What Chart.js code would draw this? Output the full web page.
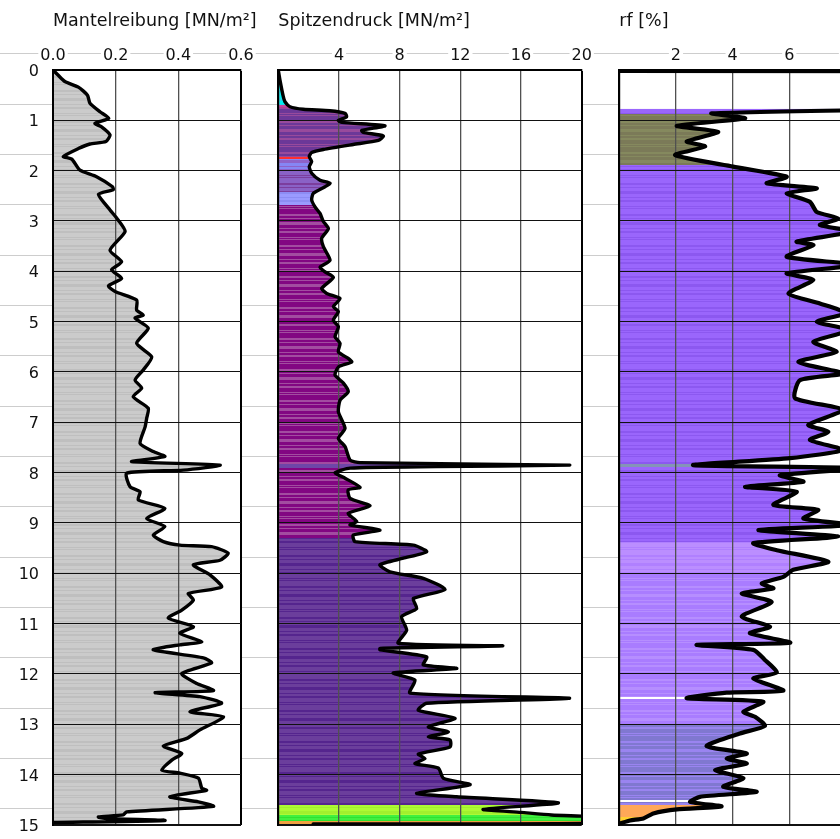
<!DOCTYPE html>
<html>
<head>
<meta charset="utf-8">
<title>Drucksondierung</title>
<script src="https://cdn.jsdelivr.net/npm/chart.js@4.4.1/dist/chart.umd.min.js"></script>
<style>
  html, body { margin: 0; padding: 0; background: #fff; overflow: hidden; }
  #sheet { position: relative; width: 840px; height: 839px; overflow: hidden; background: #fff; }
  #sheet canvas { position: absolute; top: 0; }
</style>
</head>
<body>
<div id="sheet">
  <canvas id="fsChart" width="260" height="839" style="left:0px"></canvas>
  <canvas id="qcChart" width="340" height="839" style="left:260px"></canvas>
  <canvas id="rfChart" width="360" height="839" style="left:600px"></canvas>
</div>
<script>
// ---- Mantelreibung fs [MN/m²] over depth [m] ----
const fsDepth = [0.00, 0.10, 0.23, 0.34, 0.50, 0.66, 0.83, 0.96, 1.06, 1.13, 1.29, 1.42, 1.47, 1.56, 1.72, 1.77,
  1.99, 2.12, 2.32, 2.38, 2.47, 2.78, 2.98, 3.21, 3.58, 3.81, 3.97, 4.14, 4.29, 4.40, 4.57, 4.77, 4.87, 4.93,
  5.13, 5.43, 5.70, 5.96, 6.16, 6.32, 6.49, 6.72, 6.92, 7.09, 7.42, 7.58, 7.68, 7.78, 7.85, 7.95, 8.01, 8.28,
  8.38, 8.54, 8.71, 8.91, 9.07, 9.24, 9.37, 9.44, 9.47, 9.60, 9.74, 9.83, 10.03, 10.27, 10.40, 10.53, 10.73,
  10.89, 11.06, 11.19, 11.36, 11.42, 11.52, 11.68, 11.78, 11.99, 12.19, 12.33, 12.37, 12.45, 12.58, 12.75,
  12.85, 13.11, 13.28, 13.43, 13.58, 13.71, 13.91, 13.97, 14.07, 14.27, 14.31, 14.44, 14.54, 14.63, 14.74,
  14.80, 14.84, 14.87, 14.91, 14.95];
const fsValue = [0.000, 0.016, 0.038, 0.081, 0.110, 0.118, 0.150, 0.178, 0.134, 0.155, 0.182, 0.169, 0.118, 0.081, 0.033, 0.060,
  0.086, 0.139, 0.190, 0.192, 0.145, 0.182, 0.208, 0.230, 0.182, 0.219, 0.187, 0.219, 0.177, 0.198, 0.267, 0.267, 0.288, 0.262,
  0.304, 0.267, 0.315, 0.288, 0.262, 0.283, 0.256, 0.304, 0.299, 0.294, 0.278, 0.320, 0.357, 0.251, 0.533, 0.416, 0.235, 0.246,
  0.278, 0.272, 0.357, 0.299, 0.357, 0.320, 0.352, 0.405, 0.506, 0.559, 0.533, 0.448, 0.501, 0.538, 0.432, 0.448, 0.411,
  0.368, 0.448, 0.405, 0.475, 0.405, 0.320, 0.480, 0.506, 0.411, 0.459, 0.512, 0.326, 0.469, 0.538, 0.437,
  0.544, 0.469, 0.427, 0.352, 0.411, 0.379, 0.347, 0.405, 0.464, 0.475, 0.490, 0.373, 0.464, 0.512, 0.235,
  0.224, 0.145, 0.171, 0.357, 0.000];

// ---- Spitzendruck qc [MN/m²] over depth [m] ----
const qcDepth = [0.00, 0.20, 0.53, 0.63, 0.73, 0.78, 0.81, 0.86, 0.93, 1.00, 1.04, 1.11, 1.20, 1.24, 1.31, 1.40,
  1.48, 1.58, 1.64, 1.72, 1.82, 1.92, 2.05, 2.19, 2.25, 2.32, 2.45, 2.58, 2.72, 2.85, 3.01, 3.15, 3.34, 3.51,
  3.78, 3.92, 4.01, 4.12, 4.34, 4.44, 4.54, 4.70, 4.80, 4.97, 5.10, 5.30, 5.43, 5.60, 5.73, 5.80, 5.90, 6.06,
  6.22, 6.39, 6.56, 6.79, 7.12, 7.32, 7.48, 7.75, 7.80, 7.85, 7.88, 7.91, 8.00, 8.11, 8.29, 8.34, 8.51, 8.66,
  8.81, 8.97, 9.04, 9.14, 9.24, 9.37, 9.44, 9.57, 9.70, 9.83, 9.97, 10.10, 10.32, 10.50, 10.70, 10.86, 11.13,
  11.39, 11.44, 11.49, 11.52, 11.66, 11.82, 11.89, 11.98, 12.12, 12.38, 12.48, 12.58, 12.72, 12.88, 13.05,
  13.15, 13.25, 13.31, 13.45, 13.59, 13.68, 13.78, 13.87, 14.07, 14.20, 14.37, 14.44, 14.56, 14.69, 14.75,
  14.80, 14.86, 14.96, 14.98];
const qcValue = [0.00, 0.11, 0.33, 0.44, 0.77, 1.65, 3.40, 4.40, 4.50, 3.96, 4.20, 7.03, 5.50, 5.60, 6.92, 6.60,
  4.94, 2.97, 2.20, 2.04, 2.20, 2.04, 2.20, 2.75, 3.41, 3.08, 2.31, 2.20, 2.42, 2.75, 2.97, 3.30, 2.86, 2.97,
  3.41, 2.75, 3.08, 3.63, 2.86, 3.19, 4.07, 3.63, 3.96, 3.63, 3.96, 3.74, 4.07, 3.96, 4.61, 4.84, 3.96, 3.74,
  4.29, 4.61, 4.07, 3.96, 4.40, 3.96, 4.40, 4.73, 5.39, 19.20, 10.40, 4.73, 3.74, 4.40, 5.39, 4.61, 4.73, 6.05,
  4.61, 5.17, 4.73, 6.70, 4.94, 5.06, 8.90, 9.78, 8.24, 6.70, 7.36, 9.56, 10.99, 8.90, 9.12, 8.13, 8.46,
  7.91, 14.80, 6.70, 6.70, 9.78, 9.56, 11.76, 7.58, 9.01, 8.68, 19.20, 9.78, 9.23, 11.65, 9.89,
  11.21, 9.89, 11.32, 11.32, 9.23, 9.67, 9.01, 10.55, 10.88, 12.64, 9.12, 11.76, 18.46, 13.51, 16.00,
  18.00, 22.00, 22.00, 2.30];

// ---- Reibungsverhältnis rf [%] over depth [m] (no reading between 0.04 m and 0.77 m) ----
const rfDepth = [0.02, 0.03, 0.035, 0.40, 0.77, 0.86, 0.96, 1.11, 1.23, 1.42, 1.52, 1.69, 1.92, 2.12, 2.25, 2.35,
  2.45, 2.62, 2.82, 2.95, 3.08, 3.21, 3.41, 3.48, 3.71, 3.87, 4.04, 4.17, 4.44, 4.64, 4.83, 5.00, 5.17, 5.40,
  5.60, 5.80, 6.03, 6.16, 6.52, 6.75, 7.05, 7.19, 7.35, 7.55, 7.71, 7.85, 7.91, 8.05, 8.18, 8.28, 8.38, 8.64,
  8.74, 8.91, 9.04, 9.14, 9.27, 9.40, 9.54, 9.77, 9.93, 10.07, 10.20, 10.30, 10.40, 10.57, 10.86, 11.06, 11.19,
  11.38, 11.42, 11.52, 11.72, 11.97, 12.09, 12.33, 12.37, 12.48, 12.55, 12.75, 12.85, 13.03, 13.18, 13.43,
  13.58, 13.68, 13.78, 13.91, 14.07, 14.24, 14.34, 14.44, 14.54, 14.63, 14.69, 14.77, 14.87, 14.91, 14.97];
const rfValue = [0.00, 40.0, 40.0, null, 12.0, 3.26, 4.44, 2.03, 3.49, 2.38, 3.03, 1.97, 4.02, 5.91, 5.20, 6.97,
  5.91, 6.73, 6.97, 7.73, 7.08, 8.20, 6.26, 6.85, 5.91, 8.30, 5.91, 6.85, 5.97, 7.08, 8.00, 6.97, 8.10, 6.85,
  7.67, 6.32, 7.90, 6.38, 6.20, 7.90, 6.67, 7.38, 6.73, 7.90, 6.03, 2.61, 8.50, 5.67, 6.50, 4.44, 6.26, 5.44,
  7.02, 6.50, 8.20, 4.91, 7.73, 4.73, 5.56, 7.38, 6.14, 5.79, 5.03, 5.44, 4.32, 5.38, 4.32, 5.32, 4.61,
  6.03, 2.73, 4.73, 5.14, 5.56, 4.73, 5.79, 3.79, 2.38, 5.08, 4.38, 4.79, 5.14, 4.26, 3.08,
  4.50, 3.79, 4.50, 3.38, 4.38, 3.67, 4.85, 2.85, 2.50, 3.61, 2.03, 1.20, 0.85, 0.38, 0.02];

// ---- soil zones (top depth of each layer and its soil class) ----
const fsZoneTop  = [0.00];
const fsZoneSoil = [1];
const qcZoneTop  = [0.00, 0.40, 0.70, 0.76, 1.72, 1.76, 2.00, 2.42, 2.68, 7.83, 7.90, 9.30, 14.60, 14.80, 14.92];
const qcZoneSoil = [2, 2, 3, 4, 5, 6, 7, 8, 9, 10, 9, 11, 12, 13, 14];
const rfZoneTop  = [0.00, 0.88, 1.88, 7.83, 7.88, 9.37, 10.00, 12.45, 12.49, 13.00, 14.50, 14.55, 14.60, 14.85];
const rfZoneSoil = [15, 16, 15, 17, 15, 18, 19, 0, 19, 20, 0, 20, 21, 22];

// ---- axis ticks ----
const depthMax = 15;
const fsMax = 0.6, fsStep = 0.2;
const qcMax = 20, qcStep = 4;
const rfMax = 10, rfStep = 2;

// ---- styling ----
const FONT = "'DejaVu Sans', sans-serif";
// soil class -> [main tone, banding tone]
const soilColour = {
  0: ['#ffffff', '#ffffff'],
  1: ['#cbcbcb', '#bfbfbf'],
  2: ['#00eef0', '#22d6ea'],
  3: ['#c4449c', '#b23c92'],
  4: ['#6c3898', '#984a9c'],
  5: ['#ff3030', '#ff3030'],
  6: ['#8686f4', '#8e62c8'],
  7: ['#8a62c6', '#7c3e9e'],
  8: ['#9a9aff', '#8c8cf4'],
  9: ['#820682', '#a24ca0'],
  10: ['#6e46a8', '#6e46a8'],
  11: ['#6b3e9c', '#55258e'],
  12: ['#adfa34', '#a2f02e'],
  13: ['#40f040', '#30e230'],
  14: ['#f0a040', '#f0a040'],
  15: ['#9a66fc', '#8c58f0'],
  16: ['#7b7a58', '#85895e'],
  17: ['#8494b8', '#8494b8'],
  18: ['#bb8eff', '#b080ff'],
  19: ['#a97cff', '#b68eff'],
  20: ['#8078d0', '#9a84f0'],
  21: ['#ffa858', '#ffa858'],
  22: ['#ffd030', '#ffd030']
};
// banding rhythm of the layer fill, in pixel rows (main, banding, main, ...)
const bandRuns = [3, 1, 2, 2, 4, 1, 1, 1, 5, 2, 2, 1, 3, 3];

// vertical gradient: hard colour steps at layer boundaries, fine banding inside each layer
function zoneFill(chart, tops, soils) {
  const ys = chart.scales.y;
  if (!chart.chartArea || !ys) return soilColour[soils[0]][0];
  const p0 = ys.getPixelForValue(ys.min);
  const p1 = ys.getPixelForValue(ys.max);
  const g = chart.ctx.createLinearGradient(0, p0, 0, p1);
  const frac = px => Math.min(1, Math.max(0, (px - p0) / (p1 - p0)));
  const zones = tops.map((top, i) => ({
    a: ys.getPixelForValue(top),
    b: ys.getPixelForValue(i + 1 < tops.length ? tops[i + 1] : ys.max),
    c: soilColour[soils[i]]
  }));
  zones.forEach(z => {
    let y = p0, r = 0;
    while (y < z.b) {
      const yn = y + bandRuns[r % bandRuns.length];
      const lo = Math.max(y, z.a), hi = Math.min(yn, z.b);
      if (hi > lo) {
        const col = z.c[r % 2];
        g.addColorStop(frac(lo), col);
        g.addColorStop(frac(hi), col);
      }
      y = yn; r++;
    }
  });
  return g;
}

// light rules across the sheet, kept outside the plot frames
const sheetRules = {
  id: 'sheetRules',
  beforeDraw(chart) {
    const { ctx, chartArea: a, width } = chart;
    const ys = chart.scales.y;
    ctx.save();
    ctx.strokeStyle = '#cdcdcd';
    ctx.lineWidth = 1;
    for (let k = 0; k <= depthMax; k++) {
      const py = Math.round(ys.getPixelForValue(k - 1 / 3)) + 0.5;
      ctx.beginPath();
      if (py < a.top || py > a.bottom) {
        ctx.moveTo(0, py); ctx.lineTo(width, py);
      } else {
        ctx.moveTo(0, py); ctx.lineTo(a.left, py);
        ctx.moveTo(a.right, py); ctx.lineTo(width, py);
      }
      ctx.stroke();
    }
    ctx.restore();
  }
};

// panel heading, left-aligned on the plot frame and free to run past it
const panelHeading = {
  id: 'panelHeading',
  afterDraw(chart, args, opts) {
    const { ctx, chartArea: a } = chart;
    ctx.save();
    ctx.fillStyle = opts.color;
    ctx.font = opts.size + 'px ' + FONT;
    ctx.textAlign = 'left';
    ctx.textBaseline = 'alphabetic';
    ctx.fillText(opts.text, a.left, opts.baseline);
    ctx.restore();
  }
};

function buildPanel(id, p) {
  return new Chart(document.getElementById(id), {
    type: 'line',
    data: {
      datasets: [{
        data: p.depth.map((d, i) => ({ x: p.value[i], y: d })),
        borderColor: '#000',
        borderWidth: p.lineWidth,
        borderJoinStyle: 'round',
        borderCapStyle: 'round',
        pointRadius: 0,
        tension: 0.2,
        spanGaps: false,
        fill: 'origin',
        backgroundColor: c => zoneFill(c.chart, p.zoneTop, p.zoneSoil)
      }]
    },
    options: {
      indexAxis: 'y',
      responsive: false,
      animation: false,
      events: [],
      layout: { autoPadding: false, padding: { left: 0, top: 0, right: p.padRight, bottom: 14 } },
      plugins: {
        legend: { display: false },
        tooltip: { enabled: false },
        filler: { drawTime: 'beforeDraw' },
        panelHeading: { text: p.title, size: 17.5, color: '#111', baseline: 26 }
      },
      scales: {
        x: {
          type: 'linear',
          position: 'top',
          min: 0,
          max: p.max,
          afterFit: s => { s.height = 70; s.paddingLeft = 0; s.paddingRight = 0; },
          ticks: {
            stepSize: p.step,
            padding: 5,
            color: '#111',
            font: { family: FONT, size: 16 },
            maxRotation: 0,
            autoSkip: false,
            showLabelBackdrop: true,
            backdropPadding: { x: 2, y: 1 },
            backdropColor: c => (c.tick && c.tick.value === 0 && !p.zeroLabel) ? 'rgba(0,0,0,0)' : '#ffffff',
            callback: v => p.label(v)
          },
          grid: {
            drawTicks: false,
            color: c => (c.tick && Math.abs(c.tick.value - p.max) < 1e-9) ? '#000' : '#505050',
            lineWidth: c => (c.tick && Math.abs(c.tick.value - p.max) < 1e-9) ? 2 : 1.3
          },
          border: { display: true, color: '#000', width: 2 }
        },
        y: {
          type: 'linear',
          reverse: true,
          min: 0,
          max: depthMax,
          afterFit: s => { s.width = p.axisWidth; s.paddingTop = 0; s.paddingBottom = 0; },
          ticks: {
            display: p.showDepth,
            stepSize: 1,
            padding: 14,
            labelOffset: 2,
            color: '#111',
            font: { family: FONT, size: 16 }
          },
          grid: {
            drawTicks: false,
            color: '#111',
            lineWidth: c => (c.tick && c.tick.value === depthMax) ? 2 : 1.1
          },
          border: { display: true, color: '#000', width: 2 }
        }
      }
    },
    plugins: [sheetRules, panelHeading]
  });
}

buildPanel('fsChart', {
  depth: fsDepth, value: fsValue, zoneTop: fsZoneTop, zoneSoil: fsZoneSoil,
  max: fsMax, step: fsStep, title: 'Mantelreibung [MN/m²]',
  label: v => v.toFixed(1), zeroLabel: true,
  axisWidth: 53, padRight: 19, showDepth: true, lineWidth: 3.4
});
buildPanel('qcChart', {
  depth: qcDepth, value: qcValue, zoneTop: qcZoneTop, zoneSoil: qcZoneSoil,
  max: qcMax, step: qcStep, title: 'Spitzendruck [MN/m²]',
  label: v => (v === 0 ? '' : String(v)), zeroLabel: false,
  axisWidth: 18.3, padRight: 18.3, showDepth: false, lineWidth: 3.4
});
buildPanel('rfChart', {
  depth: rfDepth, value: rfValue, zoneTop: rfZoneTop, zoneSoil: rfZoneSoil,
  max: rfMax, step: rfStep, title: 'rf [%]',
  label: v => (v === 0 ? '' : String(v)), zeroLabel: false,
  axisWidth: 19.3, padRight: 57.4, showDepth: false, lineWidth: 4.2
});
</script>
</body>
</html>
